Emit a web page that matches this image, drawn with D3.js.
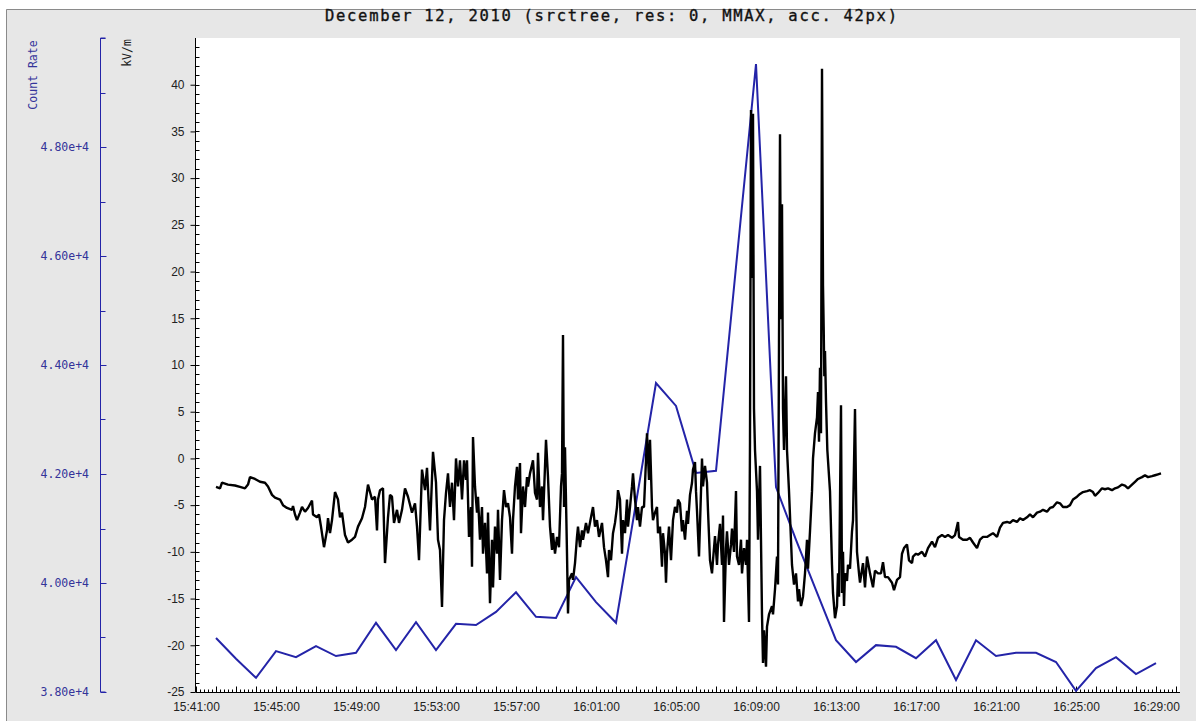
<!DOCTYPE html>
<html>
<head>
<meta charset="utf-8">
<script src="https://cdn.jsdelivr.net/npm/d3@7/dist/d3.min.js"></script>
<style>
  body { margin: 0; background: #fff; }
  text { font-family: "Liberation Sans", Arial, sans-serif; }
</style>
</head>
<body>
<svg id="chart" width="1196" height="721"></svg>
<script>
// chart title and axis names
const title = "December 12, 2010 (srctree, res: 0, MMAX, acc. 42px)";
const kvLabel = "kV/m";
const countLabel = "Count Rate";

// x axis: start of the window and labelled ticks (every 4 minutes)
const startTime = "15:41:00";
const endTime = "16:30:12";
const timeTickLabels = ["15:41:00", "15:45:00", "15:49:00", "15:53:00", "15:57:00", "16:01:00", "16:05:00",
  "16:09:00", "16:13:00", "16:17:00", "16:21:00", "16:25:00", "16:29:00"];

// count rate, one value per minute from 15:42 to 16:29
const countRate = [38990, 38610, 38260, 38750, 38640, 38840, 38660, 38720, 39270, 38770,
  39280, 38770, 39250, 39230, 39470, 39830, 39380, 39360, 40110, 39650,
  39270, 41470, 43670, 43250, 42020, 42060, 45800, 49520, 41760, 40790,
  39870, 38950, 38550, 38860, 38830, 38620, 38950, 38220, 38950, 38660,
  38720, 38720, 38550, 38020, 38440, 38640, 38330, 38530];
const countTicks = [38000, 40000, 42000, 44000, 46000, 48000];
const countMinorTicks = [39000, 41000, 43000, 45000, 47000, 49000, 50000];

// electric field (kV/m): seconds after 15:41:00 and value
const efmSeconds = [60, 72, 78, 96, 117, 132, 147, 156, 162, 177, 192, 207, 216, 228, 237, 252, 261, 273, 288, 291,
  297, 303, 312, 318, 327, 336, 348, 351, 363, 369, 375, 384, 393, 396, 402, 408, 417, 426, 432, 438,
  447, 456, 468, 477, 486, 498, 507, 516, 522, 528, 537, 543, 546, 552, 561, 567, 576, 582, 588, 594,
  603, 609, 618, 627, 636, 648, 657, 663, 669, 678, 687, 693, 702, 711, 720, 726,
  732, 738, 744, 750, 756, 762, 768, 774, 780, 786, 792, 798, 804, 810, 813, 819, 825, 828, 831, 837,
  843, 846, 852, 858, 861, 867, 873, 876, 882, 888, 891, 897, 903, 906, 912, 918, 924, 930, 936, 942,
  948, 951, 957, 963, 966, 972, 975, 981, 987, 993, 996, 1002, 1011, 1017, 1023, 1026, 1032, 1038, 1041, 1050,
  1056, 1062, 1068, 1071, 1077, 1083, 1089, 1095, 1098, 1101, 1104, 1107, 1113, 1116, 1119, 1128, 1131, 1137, 1143, 1146,
  1152, 1158, 1161, 1170, 1176, 1185, 1191, 1197, 1203, 1209, 1218, 1224, 1230, 1236, 1239, 1245, 1251, 1257, 1263, 1266,
  1272, 1278, 1281, 1287, 1293, 1296, 1302, 1308, 1311, 1317, 1323, 1326, 1332, 1338, 1344, 1350, 1353, 1359, 1362, 1368,
  1371, 1377, 1383, 1386, 1392, 1398, 1401, 1407, 1410, 1413, 1419, 1425, 1431, 1437, 1443, 1446,
  1452, 1458, 1461, 1467, 1473, 1476, 1482, 1488, 1491, 1497, 1500, 1503, 1509, 1515, 1518, 1521, 1527, 1533, 1536, 1542,
  1548, 1551, 1557, 1563, 1566, 1572, 1578, 1581, 1584, 1590, 1593, 1599, 1605, 1608, 1614, 1620, 1623, 1629, 1635, 1638,
  1644, 1650, 1653, 1659, 1662, 1665, 1668, 1671, 1674, 1677, 1683, 1686, 1692, 1698, 1701, 1704, 1710, 1713, 1719, 1728,
  1731, 1737, 1743, 1746, 1749, 1752, 1755, 1758, 1761, 1764, 1770, 1773, 1779, 1788, 1794, 1800, 1806, 1809, 1815, 1821,
  1827, 1833, 1836, 1842, 1848, 1851, 1857, 1863, 1866, 1869, 1872, 1875, 1878, 1881, 1883, 1885, 1887, 1890, 1894, 1902,
  1908, 1911, 1917, 1923, 1926, 1929, 1935, 1938, 1941, 1944, 1947, 1953, 1956, 1962, 1968, 1971, 1977, 1980, 1983, 1989,
  1992, 2001, 2007, 2013, 2022, 2031, 2037, 2046, 2055, 2061, 2067, 2076, 2088, 2094, 2103, 2112, 2118, 2124, 2133, 2139,
  2148, 2151, 2160, 2166, 2178, 2187, 2196, 2208, 2217, 2226, 2238, 2247, 2256, 2268, 2277, 2286, 2289, 2301, 2313, 2322,
  2331, 2343, 2352, 2361, 2373, 2382, 2391, 2403, 2412, 2421, 2433, 2442, 2451, 2463, 2472, 2481, 2493, 2502, 2511, 2523,
  2532, 2541, 2553, 2562, 2571, 2583, 2592, 2601, 2613, 2622, 2631, 2643, 2652, 2661, 2673, 2682, 2691, 2697, 2706, 2718,
  2727, 2736, 2748, 2757, 2766, 2778, 2787, 2796, 2808, 2817, 2826, 2838, 2847, 2856, 2868, 2877, 2886, 2895];
const efmKv = [-3.05, -3.2, -2.6, -2.8, -2.9, -3.05, -3.2, -2.8, -2.0, -2.2, -2.5, -2.6, -3.0, -3.9, -4.2, -4.4, -5.0, -5.3, -5.5, -5.1,
  -6.0, -6.6, -5.8, -5.2, -5.7, -5.3, -4.5, -6.0, -6.3, -6.0, -7.3, -9.5, -7.7, -6.4, -8.0, -6.6, -3.6, -4.4, -6.3, -5.8,
  -8.2, -9.0, -8.7, -8.4, -7.3, -6.4, -5.2, -2.8, -3.6, -4.4, -4.1, -7.7, -4.4, -3.4, -3.2, -11.2, -6.3, -3.9, -4.1, -6.9,
  -5.5, -6.9, -5.5, -3.2, -4.1, -5.8, -4.8, -7.3, -10.9, -1.2, -3.4, -1.0, -7.7, 0.7, -2.6, -8.7,
  -9.8, -15.9, -6.6, -3.7, -1.6, -5.2, -2.6, -6.6, 0.0, -3.0, -0.2, -4.4, -0.2, -2.3, -0.2, -8.4, -5.2, -11.6, 2.3, -3.0,
  -5.8, -4.1, -8.7, -5.2, -10.2, -6.9, -12.3, -5.8, -15.5, -8.7, -13.8, -7.3, -10.2, -5.5, -13.0, -6.6, -3.4, -5.2, -4.8, -6.3,
  -10.2, -6.6, -3.0, -0.9, -4.4, -0.5, -8.0, -3.0, -5.2, -2.0, -3.0, -1.6, -0.2, -3.7, -4.4, 0.6, -5.2, -3.0, -6.6, 2.0,
  -2.0, -7.3, -9.8, -8.0, -10.2, -8.4, -9.5, -3.0, -1.6, 13.2, -5.2, 1.2, -10.2, -16.6, -13.0, -12.3, -13.0, -11.2, -8.4, -7.3,
  -9.5, -7.7, -8.7, -6.9, -8.0, -6.3, -5.2, -7.3, -6.6, -8.4, -6.9, -9.5, -10.9, -12.7, -9.8, -10.9, -8.0, -6.9, -5.2, -3.4,
  -4.4, -10.2, -6.6, -8.0, -4.4, -7.3, -5.2, -3.0, -1.6, -4.4, -6.6, -5.2, -7.3, -5.2, -5.2, -0.2, 2.7, -2.3, 2.0, -5.2,
  -6.6, -5.8, -5.2, -8.0, -7.3, -11.6, -8.0, -10.2, -13.3, -10.2, -7.3, -10.9, -6.6, -5.2, -5.8, -4.4,
  -4.8, -7.8, -6.6, -8.7, -5.6, -7.0, -3.9, -2.6, -1.2, -0.4, -3.5, -5.6, -10.5, -3.5, 0.0, -3.0, -0.8, -2.6, -5.6, -10.9,
  -12.3, -10.9, -8.3, -11.4, -9.2, -7.0, -11.4, -6.1, -17.5, -9.6, -7.8, -11.4, -9.2, -7.5, -10.0, -3.5, -10.5, -11.4, -8.7, -12.3,
  -9.6, -11.4, -8.7, -17.5, 1.8, 37.3, 19.3, 36.9, 5.3, 0.9, -3.5, -8.7, -0.8, -16.7, -21.9, -18.4, -22.3, -18.0, -16.7, -15.8,
  -16.7, -14.0, -10.5, -13.5, 12.4, 34.7, 14.9, 27.2, 5.3, 0.9, 8.8, 0.9, -3.5, -11.4, -13.5, -12.3, -15.3, -14.0, -15.8, -14.8,
  -12.3, -8.7, -11.8, -7.8, -3.5, 0.0, 2.7, 4.4, 7.1, 1.8, 9.7, 2.7, 41.7, 18.5, 14.1, 8.8, 11.5, 6.1, 0.9, -3.5,
  -11.4, -14.4, -17.1, -15.8, -12.3, -14.8, 5.7, -14.4, -10.0, -15.8, -12.3, -13.1, -11.4, -11.8, -7.8, -6.6, 5.3, -3.5, -10.0, -12.3,
  -13.3, -11.2, -13.8, -10.5, -12.3, -13.8, -12.0, -12.3, -12.3, -11.1, -12.7, -12.7, -13.3, -14.1, -13.0, -12.7, -10.2, -9.6, -9.2, -10.9,
  -11.2, -10.5, -10.2, -10.3, -10.0, -10.5, -9.6, -8.9, -9.5, -8.5, -8.2, -8.4, -8.2, -8.5, -8.2, -6.8, -8.4, -8.7, -8.7, -8.5,
  -9.0, -9.6, -8.7, -8.4, -8.4, -8.2, -8.0, -8.4, -7.4, -6.9, -6.8, -6.9, -6.6, -6.8, -6.4, -6.6, -6.3, -6.0, -6.3, -5.8,
  -5.7, -5.5, -5.7, -5.3, -5.2, -4.7, -4.8, -5.2, -5.2, -5.0, -4.4, -4.1, -3.8, -3.6, -3.5, -3.4, -3.6, -4.0, -3.7, -3.2,
  -3.3, -3.2, -3.4, -3.2, -3.1, -2.8, -2.9, -3.2, -2.8, -2.5, -2.2, -2.0, -1.8, -2.0, -1.9, -1.8, -1.7, -1.6];

const W = 1196, H = 721;
const plot = { left: 196, right: 1180, top: 38, bottom: 692 };
const countAxisX = 100;
const blue = "#2424a8";
const blueText = "#34349a";
const mono = "'DejaVu Sans Mono', monospace";

const parse = d3.timeParse("%H:%M:%S");
const t0 = parse(startTime);

const svg = d3.select("#chart");

// frame
svg.append("rect").attr("x", 0).attr("y", 0).attr("width", W).attr("height", H).attr("fill", "#fff");
svg.append("rect").attr("x", 6).attr("y", 9).attr("width", W - 6).attr("height", H - 9)
  .attr("fill", "#e7e7e7");
svg.append("path").attr("d", `M6.5,${H}V9.5H${W}`).attr("fill", "none").attr("stroke", "#8a8a8a");
svg.append("rect").attr("x", plot.left).attr("y", plot.top)
  .attr("width", plot.right - plot.left).attr("height", plot.bottom - plot.top).attr("fill", "#fff");

const x = d3.scaleTime().domain([t0, parse(endTime)]).range([plot.left, plot.right]);
const yKv = d3.scaleLinear().domain([-25, 45]).range([plot.bottom, plot.top]);
const yCount = d3.scaleLinear().domain([38000, 50000]).range([plot.bottom, plot.top]);

svg.append("text").attr("x", 611).attr("y", 21).attr("text-anchor", "middle")
  .attr("textLength", 572).attr("lengthAdjust", "spacing")
  .style("font-family", mono).style("font-size", "15.5px")
  .attr("fill", "#111").attr("stroke", "#111").attr("stroke-width", 0.35)
  .text(title);

// kV/m axis: labels on major ticks, minor ticks inside
const kvAxis = svg.append("g").attr("transform", `translate(${plot.left - 0.5},0)`)
  .call(d3.axisLeft(yKv).tickValues(d3.range(-25, 41, 5)).tickSize(5).tickPadding(6)
    .tickFormat(d => String(d)));
kvAxis.select(".domain").attr("d", `M0,${plot.top}V${plot.bottom}`);
kvAxis.selectAll("text").style("font-size", "12px").style("font-family", "'Liberation Sans', Arial, sans-serif").attr("fill", "#222");
kvAxis.append("g").selectAll("line").data(d3.range(-25, 45, 1)).join("line")
  .attr("x1", 0).attr("x2", 4).attr("y1", d => Math.round(yKv(d)) + 0.5).attr("y2", d => Math.round(yKv(d)) + 0.5)
  .attr("stroke", "#000");

svg.append("text").attr("transform", "translate(131,53) rotate(-90)").attr("text-anchor", "middle")
  .style("font-family", mono).style("font-size", "11.5px").attr("fill", "#222").text(kvLabel);

// count rate axis (blue), ticks pointing right
const cAxis = svg.append("g").attr("transform", `translate(${countAxisX + 0.5},0)`)
  .call(d3.axisRight(yCount).tickValues(countTicks).tickSize(6).tickFormat(() => ""));
cAxis.select(".domain").attr("d", `M5,${plot.top}H0V${plot.bottom}H5`).attr("stroke", blue);
cAxis.selectAll(".tick line").attr("stroke", blue);
cAxis.append("g").selectAll("line").data(countMinorTicks).join("line")
  .attr("x1", 0).attr("x2", 5).attr("y1", d => Math.round(yCount(d)) + 0.5).attr("y2", d => Math.round(yCount(d)) + 0.5)
  .attr("stroke", blue);
svg.append("g").selectAll("text").data(countTicks).join("text")
  .attr("x", countAxisX - 11).attr("y", d => yCount(d) + 4).attr("text-anchor", "end")
  .style("font-family", mono).style("font-size", "11.5px").attr("fill", blueText)
  .text(d => d3.format(".2e")(d));

svg.append("text").attr("transform", "translate(37,75) rotate(-90)").attr("text-anchor", "middle")
  .style("font-family", mono).style("font-size", "11.5px").attr("fill", blueText).text(countLabel);

// time axis
const majorTimes = timeTickLabels.map(parse);
const xAxis = svg.append("g").attr("transform", `translate(0,${plot.bottom + 0.5})`)
  .call(d3.axisBottom(x).tickValues(majorTimes).tickSize(0).tickPadding(10).tickFormat(d3.timeFormat("%H:%M:%S")));
xAxis.select(".domain").attr("d", `M${plot.left},0H${plot.right}`);
xAxis.selectAll("text").style("font-size", "12px").style("font-family", "'Liberation Sans', Arial, sans-serif").attr("fill", "#222");
const minorTimes = d3.timeSecond.every(12).range(t0, parse(endTime));
xAxis.append("g").selectAll("line").data(minorTimes).join("line")
  .attr("x1", d => Math.round(x(d)) + 0.5).attr("x2", d => Math.round(x(d)) + 0.5)
  .attr("y1", 0).attr("y2", (d, i) => i % 5 === 0 ? -6 : -3)
  .attr("stroke", "#000");

// series
const countPts = countRate.map((v, i) => ({ t: d3.timeMinute.offset(t0, i + 1), v }));
svg.append("path").datum(countPts)
  .attr("fill", "none").attr("stroke", blue).attr("stroke-width", 2)
  .attr("d", d3.line().x(d => x(d.t)).y(d => yCount(d.v)));

const efmPts = efmSeconds.map((s, i) => ({ t: d3.timeSecond.offset(t0, s), v: efmKv[i] }));
svg.append("path").datum(efmPts)
  .attr("fill", "none").attr("stroke", "#000").attr("stroke-width", 2.4).attr("stroke-linejoin", "bevel")
  .attr("d", d3.line().x(d => x(d.t)).y(d => yKv(d.v)));
</script>
</body>
</html>
